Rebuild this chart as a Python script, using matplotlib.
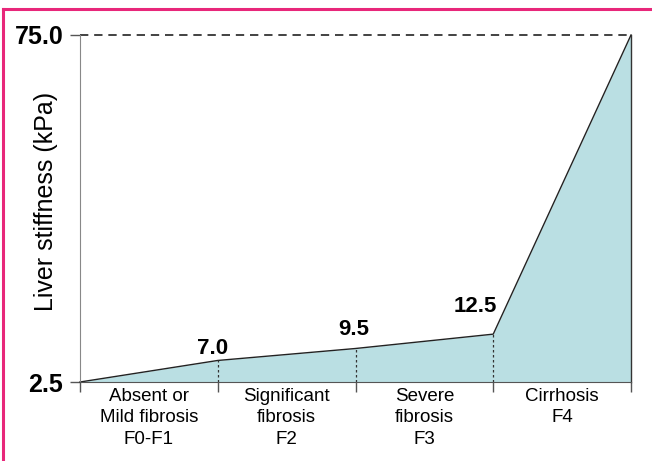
import matplotlib
matplotlib.use('Agg')
import matplotlib.pyplot as plt
from matplotlib.lines import Line2D

# stage boundaries (kPa)
stage_pos = [0, 1, 2, 3, 4]
stiffness = [2.5, 7.0, 9.5, 12.5, 75.0]
point_labels = ['7.0', '9.5', '12.5']
categories = ['Absent or\nMild fibrosis\nF0-F1', 'Significant\nfibrosis\nF2',
              'Severe\nfibrosis\nF3', 'Cirrhosis\nF4']
ytick_vals = [2.5, 75.0]
ytick_labels = ['2.5', '75.0']

plt.rcParams['font.family'] = ['Liberation Sans', 'DejaVu Sans']

fig = plt.figure(figsize=(6.52, 4.61), dpi=100)
ax = fig.add_axes([80 / 652, 79 / 461, 551 / 652, 347 / 461])

fill_col = '#badfe3'
ax.fill_between(stage_pos, stiffness, ytick_vals[0], color=fill_col, lw=0)
ax.plot(stage_pos, stiffness, color='#222222', lw=1.0, clip_on=False)
ax.plot([stage_pos[-1], stage_pos[-1]], [ytick_vals[0], stiffness[-1]],
        color='#333333', lw=1.0, clip_on=False)
ax.plot([stage_pos[0], stage_pos[-1]], [stiffness[-1], stiffness[-1]],
        color='#222222', lw=1.2, ls=(0, (5, 3.5)), clip_on=False)

for x, y in zip(stage_pos[1:4], stiffness[1:4]):
    ax.plot([x, x], [ytick_vals[0], y], color='#333333', lw=0.9,
            ls=(0, (2, 2)), clip_on=False)

# value labels above the joints
offsets = [(-4, 1, 'center'), (-1, 6, 'center'), (3, 12, 'right')]
for x, y, lab, (dx, dy, ha) in zip(stage_pos[1:4], stiffness[1:4], point_labels, offsets):
    ax.annotate(lab, (x, y), xytext=(dx, dy), textcoords='offset points',
                ha=ha, va='bottom', fontsize=16, fontweight='bold')

ax.set_xlim(0, 4)
ax.set_ylim(2.5, 75)
ax.set_xticks(stage_pos)
ax.set_xticklabels([])
ax.set_xticks([p + 0.5 for p in stage_pos[:4]], minor=True)
ax.set_xticklabels(categories, minor=True, fontsize=13.5, linespacing=1.35)
ax.tick_params(axis='x', which='major', length=7, width=1, color='#555555', direction='out')
ax.tick_params(axis='x', which='minor', length=0, pad=4)
ax.set_yticks(ytick_vals)
ax.set_yticklabels(ytick_labels, fontsize=18, fontweight='bold')
ax.tick_params(axis='y', length=7, width=1, color='#555555', pad=5)

for s in ['top', 'right']:
    ax.spines[s].set_visible(False)
ax.spines['left'].set_color('#888888')
ax.spines['bottom'].set_color('#555555')

ax.set_ylabel('Liver stiffness (kPa)', fontsize=18)
ax.yaxis.set_label_coords(-0.04, 0.52)

# pink frame on top and left
pink = '#e8277a'
fig.add_artist(Line2D([3 / 652, 1], [1 - 9 / 461, 1 - 9 / 461], color=pink, lw=2.2))
fig.add_artist(Line2D([3 / 652, 3 / 652], [0, 1 - 9 / 461], color=pink, lw=2.2))

fig.savefig('out.png', dpi=100)
